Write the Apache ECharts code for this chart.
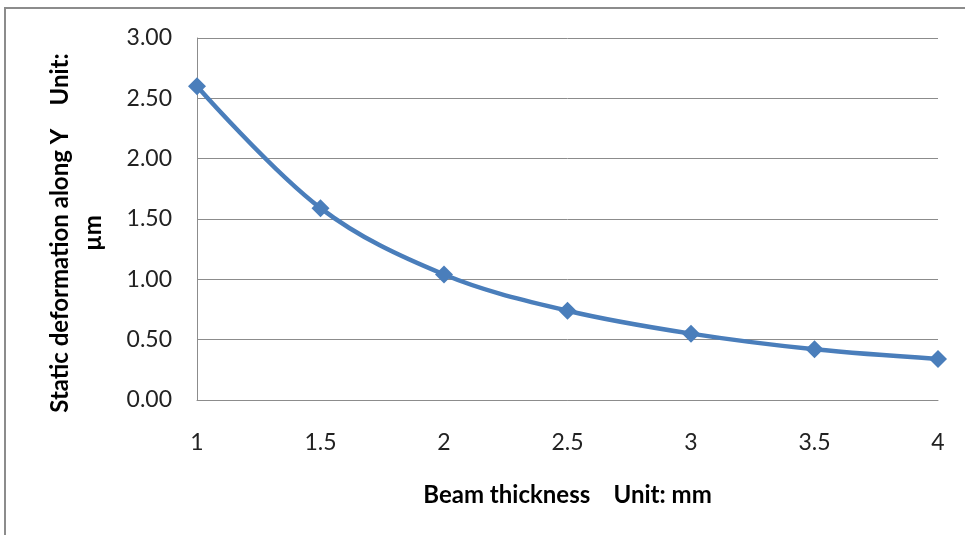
<!DOCTYPE html>
<html>
<head>
<meta charset="utf-8">
<script src="https://cdn.jsdelivr.net/npm/echarts@6/dist/echarts.min.js"></script>
<style>
  html, body { margin: 0; padding: 0; background: #fff; }
  #chart { width: 965px; height: 535px; }
</style>
</head>
<body>
<div id="chart"></div>
<script>
// Beam thickness (mm) and static deformation along Y (µm)
var thickness = [1, 1.5, 2, 2.5, 3, 3.5, 4];
var deformation = [2.60, 1.59, 1.04, 0.74, 0.55, 0.42, 0.34];

var xTitle = 'Beam thickness    Unit: mm';
var yTitle = 'Static deformation along Y    Unit:\nµm';

var points = thickness.map(function (t, i) { return [t, deformation[i]]; });

var chart = echarts.init(document.getElementById('chart'));
chart.setOption({
  animation: false,
  grid: { left: 197, right: 27, top: 38, bottom: 135 },
  graphic: [{
    type: 'rect',
    shape: { x: 5, y: 8, width: 1200, height: 800 },
    style: { fill: 'none', stroke: '#8c8c8c', lineWidth: 2 },
    silent: true
  }, {
    // rotated y-axis title, two lines
    type: 'text',
    x: 77, y: 233,
    rotation: Math.PI / 2,
    style: {
      text: yTitle,
      fontFamily: 'Lato', fontWeight: 'bold', fontSize: 24,
      lineHeight: 33,
      fill: '#000',
      align: 'center', verticalAlign: 'middle'
    },
    silent: true
  }],
  xAxis: {
    type: 'value',
    min: 1, max: 4, interval: 0.5,
    name: xTitle,
    nameLocation: 'middle',
    nameGap: 83,
    nameTextStyle: { fontFamily: 'Lato', fontWeight: 'bold', fontSize: 24, color: '#000' },
    axisLine: { show: true, lineStyle: { color: '#8c8c8c', width: 1 } },
    axisTick: { show: false },
    splitLine: { show: false },
    axisLabel: { fontFamily: 'Lato', fontSize: 23, color: '#222', margin: 31 }
  },
  yAxis: {
    type: 'value',
    min: 0, max: 3, interval: 0.5,
    axisLine: { show: true, lineStyle: { color: '#8c8c8c', width: 1 } },
    axisTick: { show: false },
    splitLine: { lineStyle: { color: '#8c8c8c', width: 1 } },
    axisLabel: {
      fontFamily: 'Lato', fontSize: 23, color: '#222', margin: 25,
      formatter: function (v) { return v.toFixed(2); }
    }
  },
  series: [{
    type: 'line',
    data: points,
    smooth: 0.35,
    symbol: 'diamond',
    symbolSize: 18,
    lineStyle: { color: '#4a7ebb', width: 4.5 },
    itemStyle: { color: '#4a7ebb' }
  }]
});
</script>
</body>
</html>
